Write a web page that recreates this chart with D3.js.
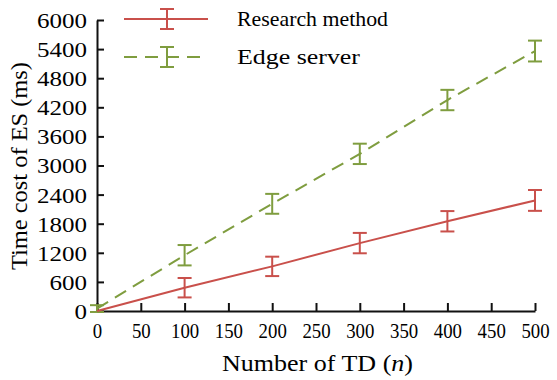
<!DOCTYPE html>
<html lang="en">
<head>
<meta charset="utf-8">
<title>Time cost of ES</title>
<script src="https://cdn.jsdelivr.net/npm/d3@7"></script>
<style>
  body { margin: 0; background: #fff; }
  text { font-family: "Liberation Serif", "Times New Roman", serif; fill: #000; }
</style>
</head>
<body>
<script>
// data
var tdCounts = [0, 100, 200, 300, 400, 500];
var researchVals = [0, 480, 920, 1400, 1850, 2280];
var researchErr = [0, 200, 200, 210, 210, 215];
var edgeVals = [50, 1150, 2210, 3240, 4350, 5360];
var edgeErr = [70, 210, 205, 210, 210, 215];
var xTicks = [0, 50, 100, 150, 200, 250, 300, 350, 400, 450, 500];
var yTicks = [0, 600, 1200, 1800, 2400, 3000, 3600, 4200, 4800, 5400, 6000];
var seriesNames = ["Research method", "Edge server"];

var w = 557, h = 380;
var mLeft = 97, mRight = 535, mTop = 20, mBottom = 311;
var red = "#c9504b", green = "#7f9d3f";

var x = d3.scaleLinear().domain([0, 500]).range([mLeft, mRight]);
var y = d3.scaleLinear().domain([0, 6000]).range([mBottom, mTop]);

var svg = d3.select("body").append("svg")
  .attr("width", w)
  .attr("height", h);

//axes
var xAxis = svg.append("g")
  .attr("transform", "translate(0," + mBottom + ")")
  .call(d3.axisBottom(x).tickValues(xTicks).tickFormat(d3.format("d"))
    .tickSizeInner(-8).tickSizeOuter(0).tickPadding(11));
var yAxis = svg.append("g")
  .attr("transform", "translate(" + mLeft + ",0)")
  .call(d3.axisLeft(y).tickValues(yTicks).tickFormat(d3.format("d"))
    .tickSizeInner(-7).tickSizeOuter(0).tickPadding(10));

[xAxis, yAxis].forEach(function(g) {
  g.select(".domain").attr("stroke", "#111").attr("stroke-width", 2);
  g.selectAll(".tick line").attr("stroke", "#111").attr("stroke-width", 2);
  g.selectAll(".tick text")
    .attr("font-family", "Liberation Serif, serif")
    .attr("font-size", "22px")
    .attr("fill", "#000")
    .attr("lengthAdjust", "spacingAndGlyphs");
});
// the figure is a little stretched: y labels wide, x labels narrow
yAxis.selectAll(".tick text")
  .attr("dy", "0.34em")
  .attr("textLength", function(d) { return String(d).length * 12.5; });
xAxis.selectAll(".tick text")
  .attr("textLength", function(d) { return String(d).length * 9.4; });

//axis titles
svg.append("text")
  .attr("x", 222)
  .attr("y", 371)
  .attr("font-size", "23px")
  .attr("textLength", 191)
  .attr("lengthAdjust", "spacingAndGlyphs")
  .html('Number of TD (<tspan font-style="italic">n</tspan>)');

svg.append("text")
  .attr("transform", "translate(27,270) rotate(-90)")
  .attr("font-size", "23px")
  .attr("textLength", 208)
  .attr("lengthAdjust", "spacingAndGlyphs")
  .text("Time cost of ES (ms)");

//series
function drawSeries(vals, errs, color, dash) {
  var pts = tdCounts.map(function(d, i) { return { x: d, v: vals[i], e: errs[i] }; });
  svg.append("path")
    .datum(pts)
    .attr("fill", "none")
    .attr("stroke", color)
    .attr("stroke-width", 2)
    .attr("stroke-dasharray", dash)
    .attr("d", d3.line().x(function(d) { return x(d.x); }).y(function(d) { return y(d.v); }));

  var bars = svg.append("g").selectAll("g")
    .data(pts.filter(function(d) { return d.e > 0; }))
    .enter()
    .append("g")
    .attr("stroke", color)
    .attr("stroke-width", 2);
  bars.append("line")
    .attr("x1", function(d) { return x(d.x); })
    .attr("x2", function(d) { return x(d.x); })
    .attr("y1", function(d) { return y(d.v - d.e); })
    .attr("y2", function(d) { return y(d.v + d.e); });
  [-1, 1].forEach(function(s) {
    bars.append("line")
      .attr("x1", function(d) { return x(d.x) - 7; })
      .attr("x2", function(d) { return x(d.x) + 7; })
      .attr("y1", function(d) { return y(d.v + s * d.e); })
      .attr("y2", function(d) { return y(d.v + s * d.e); });
  });
}
drawSeries(edgeVals, edgeErr, green, "13,8");
drawSeries(researchVals, researchErr, red, null);

//legend
var legendWidths = [151, 123];
var legend = svg.append("g").selectAll("g")
  .data(seriesNames)
  .enter()
  .append("g")
  .attr("transform", function(d, i) { return "translate(0," + (19 + i * 38) + ")"; });
legend.append("line")
  .attr("x1", 124).attr("x2", 208)
  .attr("stroke", function(d, i) { return i ? green : red; })
  .attr("stroke-width", 2)
  .attr("stroke-dasharray", function(d, i) { return i ? "13,8" : null; });
legend.append("line")
  .attr("x1", 167).attr("x2", 167).attr("y1", -10).attr("y2", 10)
  .attr("stroke", function(d, i) { return i ? green : red; })
  .attr("stroke-width", 2);
[-10, 10].forEach(function(off) {
  legend.append("line")
    .attr("x1", 160).attr("x2", 174).attr("y1", off).attr("y2", off)
    .attr("stroke", function(d, i) { return i ? green : red; })
    .attr("stroke-width", 2);
});
legend.append("text")
  .attr("x", 237)
  .attr("y", 7)
  .attr("font-size", "21px")
  .attr("textLength", function(d, i) { return legendWidths[i]; })
  .attr("lengthAdjust", "spacingAndGlyphs")
  .text(function(d) { return d; });
</script>
</body>
</html>
